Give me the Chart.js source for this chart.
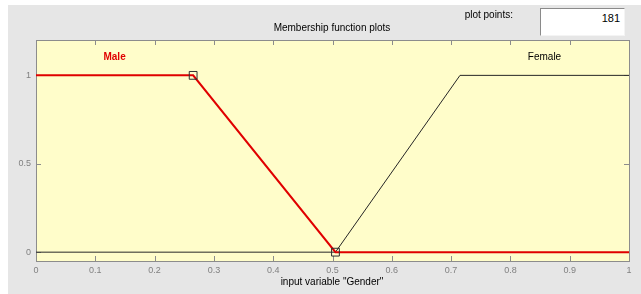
<!DOCTYPE html>
<html>
<head>
<meta charset="utf-8">
<script src="https://cdn.jsdelivr.net/npm/chart.js@4/dist/chart.umd.min.js"></script>
<style>
  html, body { margin: 0; padding: 0; background: #ffffff; }
  #wrap { position: relative; width: 641px; height: 294px; overflow: hidden; font-family: "Liberation Sans Narrow", "Liberation Sans", Arial, sans-serif; }
  #panel { position: absolute; left: 8px; top: 5px; right: 0; bottom: 0; background: #e6e6e6; }
  #chart { position: absolute; left: 0; top: 0; }
  .txt { position: absolute; font-size: 10px; color: #000; white-space: nowrap; }
  #title { left: 0; width: 664px; top: 22px; text-align: center; }
  #xlabel { left: 0; width: 664px; top: 276px; text-align: center; }
  #pplabel { right: 128px; top: 9px; }
  #ppbox { position: absolute; left: 540px; top: 8px; width: 83px; height: 26px; background: #fff;
           border-top: 1px solid #8a8a8a; border-left: 1px solid #8a8a8a;
           border-bottom: 1px solid #f4f4f4; border-right: 1px solid #f4f4f4;
           font-size: 11px; text-align: right; box-sizing: content-box; }
  #ppbox span { position: absolute; right: 4px; top: 3px; }
</style>
</head>
<body>
<div id="wrap">
  <div id="panel"></div>
  <canvas id="chart" width="641" height="294"></canvas>
  <div class="txt" id="title">Membership function plots</div>
  <div class="txt" id="xlabel">input variable "Gender"</div>
  <div class="txt" id="pplabel">plot points:</div>
  <div id="ppbox"><span>181</span></div>
</div>
<script>
// membership functions of input variable "Gender"
const mfNames = ['Male', 'Female'];
const maleX = [0, 0.265, 0.505, 1];
const maleY = [1, 1, 0, 0];
const femaleX = [0, 0.505, 0.715, 1];
const femaleY = [0, 0, 1, 1];
const xTicks = [0, 0.1, 0.2, 0.3, 0.4, 0.5, 0.6, 0.7, 0.8, 0.9, 1];
const yTicks = [0, 0.5, 1];

const toPoints = (xs, ys) => xs.map((x, i) => ({ x: x, y: ys[i] }));

// yellow plot area, inside ticks and frame (matlab style)
const axesBox = {
    id: 'axesBox',
    beforeDatasetsDraw(chart) {
        const { ctx, chartArea: a, scales } = chart;
        ctx.save();
        ctx.fillStyle = '#fffdca';
        ctx.fillRect(a.left, a.top, a.right - a.left, a.bottom - a.top);
        ctx.strokeStyle = '#8c8c8c';
        ctx.lineWidth = 1;
        ctx.beginPath();
        xTicks.forEach(v => {
            const px = Math.round(scales.x.getPixelForValue(v)) + 0.5;
            ctx.moveTo(px, a.bottom); ctx.lineTo(px, a.bottom - 5);
            ctx.moveTo(px, a.top); ctx.lineTo(px, a.top + 5);
        });
        yTicks.forEach(v => {
            const py = Math.round(scales.y.getPixelForValue(v)) + 0.5;
            ctx.moveTo(a.left, py); ctx.lineTo(a.left + 5, py);
            ctx.moveTo(a.right, py); ctx.lineTo(a.right - 5, py);
        });
        ctx.stroke();
        ctx.strokeRect(Math.round(a.left) + 0.5, Math.round(a.top) + 0.5,
            Math.round(a.right - a.left), Math.round(a.bottom - a.top));
        ctx.restore();
    },
    afterDatasetsDraw(chart) {
        // mf names above each plateau
        const { ctx, scales } = chart;
        const plateaus = [[maleX[0], maleX[1]], [femaleX[2], femaleX[3]]];
        ctx.save();
        ctx.textAlign = 'center';
        ctx.textBaseline = 'middle';
        mfNames.forEach((name, i) => {
            const cx = (plateaus[i][0] + plateaus[i][1]) / 2;
            ctx.font = i === 0 ? 'bold 10px "Liberation Sans", Arial' : '10px "Liberation Sans Narrow", "Liberation Sans", Arial';
            ctx.fillStyle = i === 0 ? '#e00000' : '#000000';
            ctx.fillText(name, scales.x.getPixelForValue(cx), scales.y.getPixelForValue(1.1));
        });
        ctx.restore();
    }
};

new Chart(document.getElementById('chart'), {
    type: 'line',
    data: {
        datasets: [{
            label: mfNames[0],
            data: toPoints(maleX, maleY),
            borderColor: '#e00000',
            borderWidth: 2,
            pointStyle: 'rect',
            pointRadius: [0, 5.5, 5.5, 0],
            pointBorderColor: '#303030',
            pointBorderWidth: 1,
            pointBackgroundColor: 'rgba(0,0,0,0)',
            tension: 0
        }, {
            label: mfNames[1],
            data: toPoints(femaleX, femaleY),
            borderColor: '#262626',
            borderWidth: 1,
            pointRadius: 0,
            tension: 0
        }]
    },
    options: {
        responsive: false,
        animation: false,
        events: [],
        layout: { padding: { left: 0, top: 40, right: 12, bottom: 0 } },
        plugins: {
            legend: { display: false },
            tooltip: { enabled: false },
            title: { display: false }
        },
        scales: {
            x: {
                type: 'linear',
                min: 0,
                max: 1,
                grid: { display: false, drawTicks: false },
                border: { display: false },
                ticks: {
                    color: '#808080',
                    font: { size: 9, family: '"Liberation Sans", Arial' },
                    padding: 4,
                    maxRotation: 0,
                    autoSkip: false,
                    callback: v => String(Math.round(v * 10) / 10)
                },
                afterBuildTicks: scale => { scale.ticks = xTicks.map(v => ({ value: v })); },
                afterFit: scale => { scale.height = 33; }
            },
            y: {
                type: 'linear',
                min: -0.05,
                max: 1.2,
                grid: { display: false, drawTicks: false },
                border: { display: false },
                ticks: {
                    color: '#808080',
                    font: { size: 9, family: '"Liberation Sans", Arial' },
                    padding: 5,
                    callback: v => String(v)
                },
                afterBuildTicks: scale => { scale.ticks = yTicks.map(v => ({ value: v })); },
                afterFit: scale => { scale.width = 36; }
            }
        }
    },
    plugins: [axesBox]
});
</script>
</body>
</html>
